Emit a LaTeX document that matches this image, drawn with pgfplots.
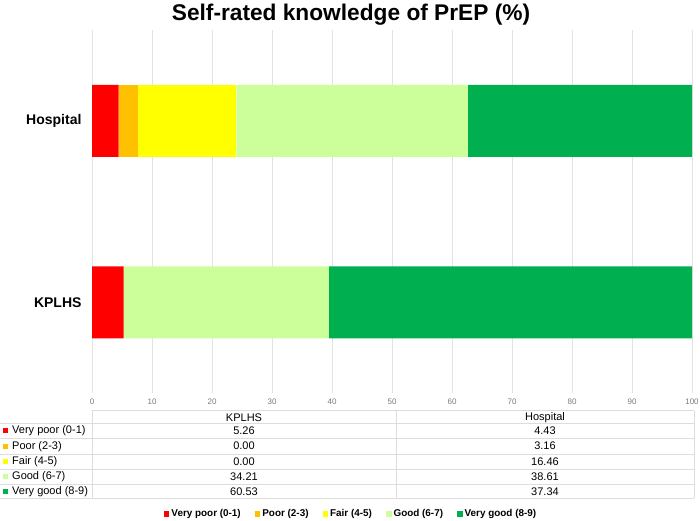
\documentclass[border=0pt]{standalone}
\usepackage{pgfplots}
\pgfplotsset{compat=1.18}
\usepackage{fontspec}
\setmainfont{Liberation Sans}
\definecolor{cVP}{HTML}{FF0000}
\definecolor{cP}{HTML}{FFC000}
\definecolor{cF}{HTML}{FFFF00}
\definecolor{cG}{HTML}{CCFF99}
\definecolor{cVG}{HTML}{00B050}
\definecolor{gridc}{HTML}{E3E3E3}
\definecolor{tabc}{HTML}{DDDDDD}
\definecolor{tickc}{HTML}{7A7A7A}
\pgfplotsset{sqlegend/.style={legend image code/.code={\fill[##1] (0pt,-2.8pt) rectangle (5.6pt,2.8pt);}}}
\begin{document}
\begin{tikzpicture}[x=1pt,y=1pt]
\useasboundingbox (0,0) rectangle (700,520);
\node[font=\bfseries\fontsize{22.7}{25}\selectfont] at (351,505) {Self-rated knowledge of PrEP (\%)};
\begin{axis}[
  at={(92pt,127pt)}, anchor=south west,
  scale only axis, width=600pt, height=363pt,
  xbar stacked, bar width=72pt,
  xmin=0, xmax=100, ymin=-0.5, ymax=1.5,
  xtick={0,10,...,100}, ytick={0,1}, yticklabels={KPLHS,Hospital},
  xmajorgrids, grid style={gridc, line width=0.8pt},
  axis line style={draw=none},
  major tick length=0pt,
  xticklabel style={font=\fontsize{8}{9}\selectfont, text=tickc, yshift=-2pt},
  yticklabel style={font=\bfseries\fontsize{14}{16}\selectfont, xshift=-7pt},
  /pgf/number format/assume math mode=true,
  legend style={at={(0.4317,-0.333)}, anchor=center, draw=none, fill=none,
    font=\bfseries\fontsize{9.9}{11}\selectfont, legend columns=5,
    /tikz/every even column/.append style={column sep=12pt}},
]
\addplot[fill=cVP, draw=none, sqlegend] coordinates {(5.26,0) (4.43,1)};
\addlegendentry{Very poor (0-1)}
\addplot[fill=cP, draw=none, sqlegend] coordinates {(0,0) (3.16,1)};
\addlegendentry{Poor (2-3)}
\addplot[fill=cF, draw=none, sqlegend] coordinates {(0,0) (16.46,1)};
\addlegendentry{Fair (4-5)}
\addplot[fill=cG, draw=none, sqlegend] coordinates {(34.21,0) (38.61,1)};
\addlegendentry{Good (6-7)}
\addplot[fill=cVG, draw=none, sqlegend] coordinates {(60.53,0) (37.34,1)};
\addlegendentry{Very good (8-9)}
\end{axis}
% data table
\begin{scope}[draw=tabc, line width=0.8pt]
\draw (92,109.3) -- (694,109.3);
\foreach \yy in {96.7,81.7,66,51,35.7,21.6} {\draw (0,\yy) -- (694,\yy);}
\foreach \xx in {92,396,694} {\draw (\xx,21.6) -- (\xx,109.3);}
\end{scope}
\begin{scope}[font=\fontsize{11}{13}\selectfont]
\node at (244,102.7) {KPLHS};
\node at (545,102.7) {Hospital};
\foreach \yy/\c/\lab/\a/\b in {89.2/cVP/Very poor (0-1)/5.26/4.43, 73.8/cP/Poor (2-3)/0.00/3.16, 58.5/cF/Fair (4-5)/0.00/16.46, 43.3/cG/Good (6-7)/34.21/38.61, 28.6/cVG/Very good (8-9)/60.53/37.34} {
  \fill[\c] (3.2,\yy-2.6) rectangle (8.4,\yy+2.6);
  \node[anchor=west, inner sep=0pt] at (12,\yy) {\lab};
  \node at (244,\yy) {\a};
  \node at (545,\yy) {\b};
}
\end{scope}
\end{tikzpicture}
\end{document}
